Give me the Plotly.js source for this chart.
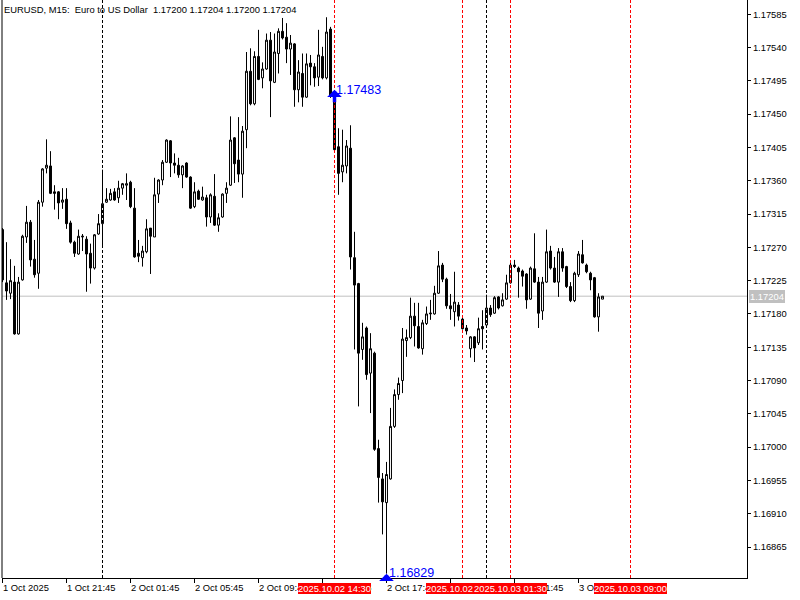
<!DOCTYPE html>
<html><head><meta charset="utf-8">
<script src="https://cdn.plot.ly/plotly-3.0.1.min.js"></script>
<style>html,body{margin:0;padding:0;background:#fff;}#chart{width:800px;height:600px;}</style>
</head><body><div id="chart"></div>
<script>
// EURUSD M15 bars, oldest first (bar 0 = 1 Oct 2025 17:45)
const opens = [
1.17294,1.17222,1.17208,1.17223,1.17153,1.17226,1.17284,1.17304,1.17254,1.17235,
1.17331,1.17377,1.17380,1.17345,1.17345,1.17331,1.17335,1.17303,1.17277,1.17261,
1.17284,1.17281,1.17262,1.17242,1.17288,1.17302,1.17331,1.17334,1.17345,1.17337,
1.17350,1.17354,1.17358,1.17323,1.17262,1.17256,1.17264,1.17296,1.17284,1.17342,
1.17361,1.17385,1.17414,1.17384,1.17381,1.17368,1.17384,1.17365,1.17325,1.17346,
1.17334,1.17337,1.17311,1.17339,1.17300,1.17311,1.17343,1.17354,1.17418,1.17388,
1.17369,1.17429,1.17508,1.17464,1.17528,1.17499,1.17511,1.17550,1.17493,1.17532,
1.17562,1.17554,1.17538,1.17545,1.17483,1.17505,1.17473,1.17519,1.17514,1.17500,
1.17528,1.17499,1.17565,1.17474,1.17406,1.17372,1.17380,1.17404,1.17256,1.17221,
1.17132,1.17161,1.17100,1.17127,1.16998,1.16957,1.16925,1.16957,1.17028,1.17071,
1.17090,1.17144,1.17148,1.17177,1.17163,1.17133,1.17167,1.17180,1.17180,1.17208,
1.17246,1.17227,1.17191,1.17183,1.17192,1.17173,1.17161,1.17133,1.17149,1.17141,
1.17163,1.17165,1.17188,1.17181,1.17203,1.17191,1.17200,1.17222,1.17246,1.17242,
1.17238,1.17234,1.17200,1.17241,1.17223,1.17184,1.17223,1.17265,1.17242,1.17223,
1.17264,1.17244,1.17217,1.17198,1.17233,1.17260,1.17246,1.17235,1.17229,1.17176,
1.17200];
const highs = [
1.17296,1.17277,1.17254,1.17245,1.17230,1.17287,1.17326,1.17307,1.17280,1.17334,
1.17377,1.17416,1.17400,1.17354,1.17346,1.17350,1.17350,1.17306,1.17279,1.17294,
1.17288,1.17285,1.17275,1.17288,1.17315,1.17375,1.17350,1.17349,1.17350,1.17360,
1.17357,1.17370,1.17360,1.17350,1.17280,1.17272,1.17308,1.17296,1.17364,1.17362,
1.17388,1.17416,1.17415,1.17397,1.17391,1.17381,1.17385,1.17366,1.17358,1.17348,
1.17352,1.17341,1.17343,1.17369,1.17316,1.17343,1.17358,1.17447,1.17419,1.17446,
1.17434,1.17534,1.17539,1.17535,1.17564,1.17520,1.17559,1.17561,1.17559,1.17566,
1.17580,1.17573,1.17557,1.17546,1.17523,1.17532,1.17532,1.17530,1.17519,1.17564,
1.17541,1.17581,1.17568,1.17476,1.17431,1.17429,1.17415,1.17435,1.17291,1.17222,
1.17168,1.17163,1.17154,1.17129,1.17010,1.16965,1.16980,1.17053,1.17078,1.17094,
1.17161,1.17159,1.17202,1.17195,1.17195,1.17172,1.17190,1.17199,1.17218,1.17265,
1.17249,1.17229,1.17207,1.17237,1.17196,1.17175,1.17165,1.17150,1.17150,1.17175,
1.17185,1.17206,1.17192,1.17204,1.17204,1.17208,1.17233,1.17249,1.17253,1.17244,
1.17240,1.17235,1.17244,1.17289,1.17230,1.17230,1.17294,1.17272,1.17257,1.17269,
1.17269,1.17245,1.17223,1.17237,1.17265,1.17280,1.17248,1.17237,1.17230,1.17208,
1.17204];
const lows = [
1.17223,1.17199,1.17200,1.17152,1.17152,1.17225,1.17276,1.17244,1.17229,1.17214,
1.17325,1.17370,1.17342,1.17321,1.17308,1.17322,1.17295,1.17275,1.17257,1.17260,
1.17265,1.17210,1.17221,1.17240,1.17287,1.17271,1.17330,1.17333,1.17333,1.17330,
1.17341,1.17334,1.17323,1.17256,1.17250,1.17244,1.17262,1.17234,1.17284,1.17330,
1.17354,1.17384,1.17365,1.17370,1.17364,1.17350,1.17364,1.17322,1.17323,1.17334,
1.17333,1.17298,1.17303,1.17299,1.17291,1.17310,1.17330,1.17353,1.17357,1.17358,
1.17337,1.17404,1.17462,1.17462,1.17496,1.17485,1.17510,1.17446,1.17492,1.17505,
1.17551,1.17519,1.17503,1.17460,1.17466,1.17460,1.17472,1.17489,1.17487,1.17488,
1.17497,1.17497,1.17472,1.17399,1.17341,1.17358,1.17370,1.17240,1.17132,1.17055,
1.17118,1.17091,1.17046,1.16995,1.16925,1.16882,1.16829,1.16956,1.17026,1.17064,
1.17073,1.17122,1.17146,1.17136,1.17133,1.17125,1.17165,1.17172,1.17179,1.17207,
1.17223,1.17187,1.17172,1.17163,1.17171,1.17159,1.17152,1.17121,1.17115,1.17138,
1.17132,1.17164,1.17176,1.17180,1.17186,1.17190,1.17199,1.17221,1.17242,1.17202,
1.17217,1.17187,1.17199,1.17222,1.17161,1.17172,1.17222,1.17240,1.17222,1.17203,
1.17237,1.17215,1.17196,1.17196,1.17230,1.17248,1.17235,1.17212,1.17175,1.17156,
1.17200];
const closes = [
1.17226,1.17211,1.17225,1.17153,1.17223,1.17285,1.17304,1.17253,1.17233,1.17331,
1.17376,1.17381,1.17343,1.17343,1.17330,1.17334,1.17302,1.17277,1.17262,1.17285,
1.17285,1.17261,1.17242,1.17287,1.17302,1.17329,1.17335,1.17343,1.17334,1.17350,
1.17356,1.17356,1.17325,1.17257,1.17258,1.17265,1.17295,1.17285,1.17341,1.17361,
1.17385,1.17415,1.17384,1.17381,1.17368,1.17380,1.17365,1.17323,1.17345,1.17335,
1.17338,1.17311,1.17341,1.17300,1.17310,1.17342,1.17350,1.17415,1.17383,1.17369,
1.17427,1.17508,1.17464,1.17528,1.17497,1.17511,1.17550,1.17495,1.17534,1.17562,
1.17553,1.17538,1.17546,1.17483,1.17507,1.17473,1.17518,1.17514,1.17499,1.17530,
1.17499,1.17561,1.17474,1.17402,1.17370,1.17381,1.17407,1.17257,1.17219,1.17127,
1.17149,1.17098,1.17133,1.16997,1.16959,1.16926,1.16963,1.17028,1.17071,1.17086,
1.17146,1.17148,1.17177,1.17164,1.17134,1.17168,1.17180,1.17181,1.17208,1.17245,
1.17227,1.17191,1.17187,1.17196,1.17177,1.17160,1.17157,1.17149,1.17134,1.17160,
1.17160,1.17188,1.17179,1.17202,1.17188,1.17199,1.17222,1.17246,1.17244,1.17237,
1.17231,1.17199,1.17242,1.17223,1.17181,1.17223,1.17264,1.17242,1.17223,1.17264,
1.17242,1.17217,1.17198,1.17235,1.17261,1.17249,1.17237,1.17226,1.17176,1.17203,
1.17204];

const timeTickIdx  = [0, 16, 32, 48, 64, 80, 96, 112, 128, 144];
const timeTickText = ['1 Oct 2025','1 Oct 21:45','2 Oct 01:45','2 Oct 05:45','2 Oct 09:45',
                      '2 Oct 13:45','2 Oct 17:45','2 Oct 21:45','3 Oct 01:45','3 Oct 05:45'];
const separatorIdx = [25, 121];
const markIdx  = [83, 115, 127, 157];
const markText = ['2025.10.02 14:30','2025.10.02 22:30','2025.10.03 01:30','2025.10.03 09:00'];
const bidPrice = 1.17204;
const highMarkIdx = 83, highMarkPrice = 1.17483;
const lowMarkIdx = 96,  lowMarkPrice = 1.16829;
const headerText = 'EURUSD, M15:\u00a0\u00a0Euro to US Dollar\u00a0\u00a01.17200 1.17204 1.17200 1.17204';

const barIndex = opens.map((_, i) => i);
const FONT = 'Liberation Sans, Arial, sans-serif';
const FS = 9.4;

const shapes = [
  {type:'line', xref:'paper', yref:'paper', x0:0, x1:0, y0:0, y1:1, line:{color:'#000', width:1}},
  {type:'line', xref:'paper', yref:'y', x0:0, x1:1, y0:bidPrice, y1:bidPrice, layer:'below', line:{color:'#c0c0c0', width:1}}
];
separatorIdx.forEach(i => shapes.push({type:'line', xref:'x', yref:'paper', x0:i, x1:i, y0:0, y1:1,
  line:{color:'#000', width:1, dash:'3px,2px'}}));
markIdx.forEach(i => shapes.push({type:'line', xref:'x', yref:'paper', x0:i, x1:i, y0:0, y1:1,
  line:{color:'#ff0000', width:1, dash:'3px,2px'}}));

const annotations = [];
annotations.push({xref:'paper', yref:'paper', x:0, y:1, xanchor:'left', yanchor:'top', xshift:1, yshift:-3,
  text:headerText, showarrow:false, borderpad:0, font:{family:FONT, size:FS, color:'#000'}});
timeTickIdx.forEach((i, k) => annotations.push({xref:'x', yref:'paper', x:i, y:0, xanchor:'left', yanchor:'top',
  xshift:-1, yshift:-3, text:timeTickText[k], showarrow:false, borderpad:0, font:{family:FONT, size:FS, color:'#000'}}));
markIdx.forEach((i, k) => annotations.push({xref:'x', yref:'paper', x:i, y:0, xanchor:'center', yanchor:'top',
  yshift:-5, text:markText[k], showarrow:false, borderpad:0, borderwidth:0, bgcolor:'#ff0000',
  font:{family:FONT, size:FS, color:'#ffffff'}}));
annotations.push({xref:'paper', yref:'y', x:1, y:bidPrice, xanchor:'left', yanchor:'middle', xshift:2,
  text:bidPrice.toFixed(5), showarrow:false, bgcolor:'#c0c0c0', borderpad:0, borderwidth:1, bordercolor:'#c0c0c0',
  font:{family:FONT, size:FS, color:'#ffffff'}});
annotations.push({xref:'x', yref:'y', x:highMarkIdx, y:highMarkPrice, ax:0, ay:14, showarrow:true, text:'',
  arrowhead:1, arrowsize:0.7, arrowwidth:3.5, arrowcolor:'#0000ff', standoff:0});
annotations.push({xref:'x', yref:'y', x:highMarkIdx, y:highMarkPrice, xanchor:'left', yanchor:'middle',
  text:highMarkPrice.toFixed(5), showarrow:false, borderpad:0, font:{family:FONT, size:12.5, color:'#0000ff'}});
annotations.push({xref:'x', yref:'y', x:lowMarkIdx, y:lowMarkPrice, ax:0, ay:6, showarrow:true, text:'',
  arrowhead:1, arrowsize:0.7, arrowwidth:3.5, arrowcolor:'#0000ff', standoff:0});
annotations.push({xref:'x', yref:'y', x:lowMarkIdx, y:lowMarkPrice, xanchor:'left', yanchor:'middle', xshift:1, yshift:1,
  text:lowMarkPrice.toFixed(5), showarrow:false, borderpad:0, font:{family:FONT, size:12.5, color:'#0000ff'}});

const trace = {
  type:'candlestick', x:barIndex, open:opens, high:highs, low:lows, close:closes,
  increasing:{line:{color:'#000000', width:1}, fillcolor:'#ffffff'},
  decreasing:{line:{color:'#000000', width:1}, fillcolor:'#000000'},
  whiskerwidth:0, hoverinfo:'skip', showlegend:false
};

const layout = {
  width:800, height:600, margin:{l:2, r:53, t:0, b:22, pad:0},
  paper_bgcolor:'#ffffff', plot_bgcolor:'#ffffff', showlegend:false,
  font:{family:FONT, size:FS, color:'#000'},
  boxgap:0.3, boxgroupgap:0.3,
  xaxis:{type:'linear', range:[-0.125, 186.125], showgrid:false, zeroline:false,
    showline:true, linecolor:'#000', linewidth:1, ticks:'outside', ticklen:4, tickcolor:'#000',
    tickmode:'array', tickvals:timeTickIdx, showticklabels:false, rangeslider:{visible:false}, fixedrange:true},
  yaxis:{range:[1.168231, 1.176043], side:'right', showgrid:false, zeroline:false,
    showline:true, linecolor:'#000', linewidth:1, ticks:'outside', ticklen:3, tickcolor:'#000',
    tickmode:'linear', tick0:1.16865, dtick:0.00045, tickformat:'.5f',
    tickfont:{family:FONT, size:FS, color:'#000'}, fixedrange:true},
  shapes:shapes, annotations:annotations
};

Plotly.newPlot('chart', [trace], layout, {displayModeBar:false, staticPlot:true});
</script></body></html>
